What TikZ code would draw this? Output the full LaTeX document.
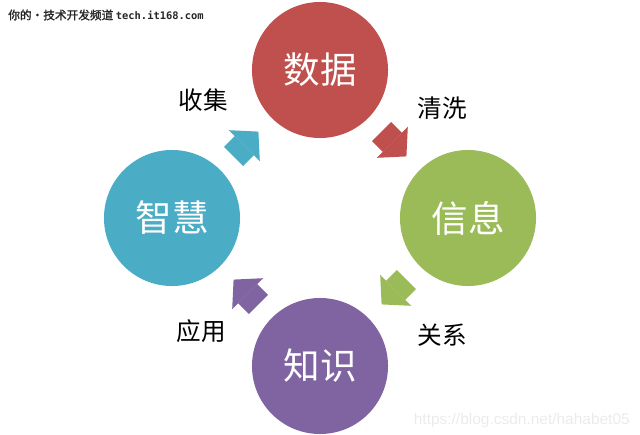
\documentclass[tikz,border=0pt]{standalone}
\usepackage{fontspec}
\newfontfamily\cjk{Noto Sans CJK SC}
\newfontfamily\cjkbold[FakeBold=1.5]{Noto Sans CJK SC}
\newfontfamily\wmsans{Liberation Sans}
\newfontfamily\wmmono{DejaVu Sans Mono}
\usetikzlibrary{arrows.meta}
\definecolor{datared}{HTML}{C0504D}
\definecolor{infogreen}{HTML}{9BBB59}
\definecolor{knowpurple}{HTML}{8064A2}
\definecolor{wiseblue}{HTML}{4BACC6}

\begin{document}
\begin{tikzpicture}[x=0.025cm, y=-0.025cm, >={Triangle[length=0.5cm, width=1.1cm, line width=0pt]}]
  \tikzset{ball/.style={circle, minimum size=3.4cm, inner sep=0pt, text=white, font=\cjk\fontsize{26}{26}\selectfont},
    flow/.style={->, line width=0.675cm, shorten <=0.47cm, shorten >=0.47cm},
    tag/.style={font=\cjk\fontsize{17.5}{18}\selectfont}}
  \useasboundingbox (0,0) rectangle (640,435);
  % the four stages
  \node[ball, fill=datared] (data) at (320,70) {数据};
  \node[ball, fill=infogreen] (info) at (468,218) {信息};
  \node[ball, fill=knowpurple] (know) at (320,366) {知识};
  \node[ball, fill=wiseblue] (wise) at (172,218) {智慧};
  \draw[flow, datared] (data) -- (info);
  \draw[flow, infogreen] (info) -- (know);
  \draw[flow, knowpurple] (know) -- (wise);
  \draw[flow, wiseblue] (wise) -- (data);
  \node[tag] (collect) at (203,100) {收集};
  \node[tag] (clean) at (442,108) {清洗};
  \node[tag] (relate) at (442,335) {关系};
  \node[tag] (apply) at (201,331) {应用};
  % watermarks
  \node[anchor=west, inner sep=0pt, text=black!85] (site) at (8,15) {\cjkbold\fontsize{8.3}{9}\selectfont 你的·技术开发频道 \wmmono\bfseries\fontsize{7.4}{9}\selectfont tech.it168.com};
  \node[anchor=east, inner sep=0pt, text=black!8] (blog) at (630,420) {\wmsans\fontsize{11}{11}\selectfont https://blog.csdn.net/hahabet05};
\end{tikzpicture}
\end{document}
